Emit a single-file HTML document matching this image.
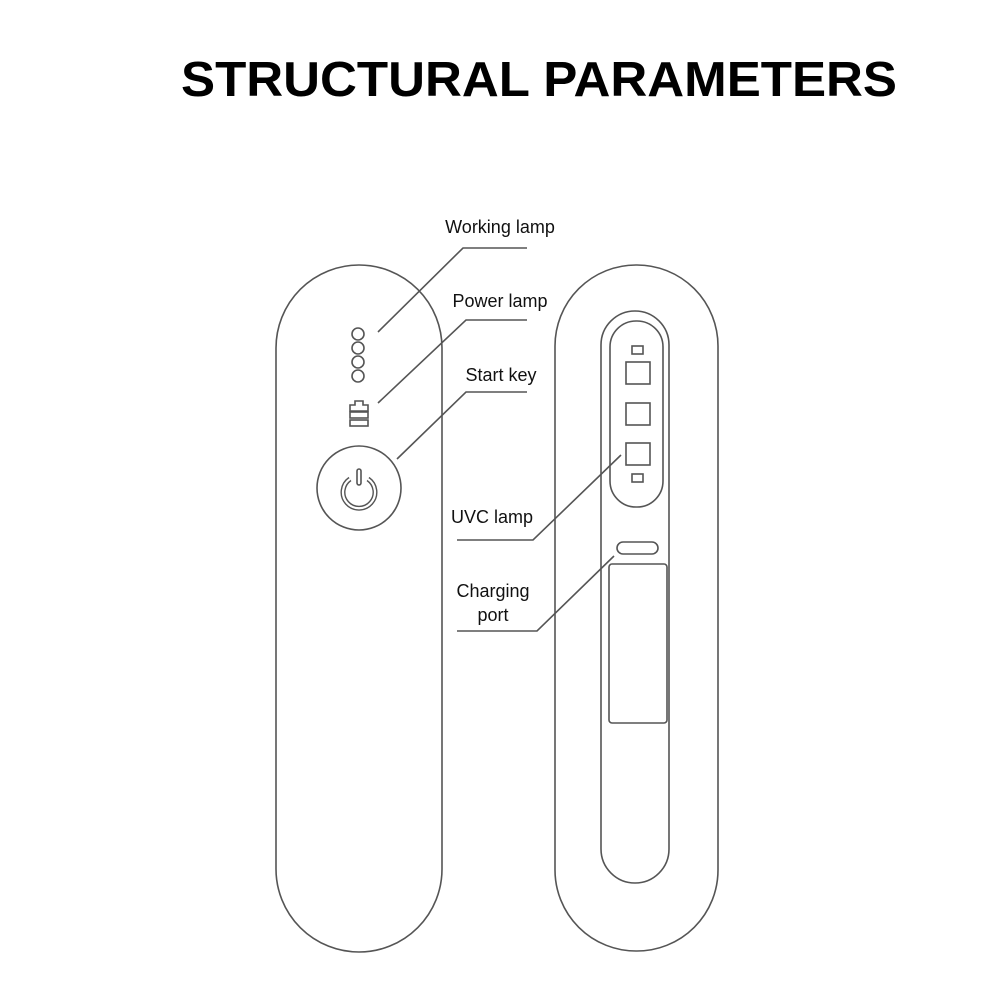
<!DOCTYPE html>
<html><head><style>
html,body{margin:0;padding:0;background:#fff}
svg{display:block}
text{font-family:"Liberation Sans",Arial,sans-serif;fill:#111}
</style></head><body>
<svg width="1000" height="1000" viewBox="0 0 1000 1000" xmlns="http://www.w3.org/2000/svg">
<text x="539" y="96" font-size="49" font-weight="bold" text-anchor="middle" textLength="716" lengthAdjust="spacingAndGlyphs" style="fill:#000">STRUCTURAL PARAMETERS</text>
<g fill="none" stroke="#555" stroke-width="1.6">
<rect x="276" y="265" width="166" height="687" rx="83"/>
<circle cx="358" cy="334" r="6"/>
<circle cx="358" cy="348" r="6"/>
<circle cx="358" cy="362" r="6"/>
<circle cx="358" cy="376" r="6"/>
<path d="M350 405 h5 v-4 h8 v4 h5 v6 h-18 z"/>
<rect x="350" y="412" width="18" height="6"/>
<rect x="350" y="420" width="18" height="6"/>
<circle cx="359" cy="488" r="42"/>
<path d="M350 479 A16 16 0 1 0 368 479" stroke-width="5" stroke="#555"/>
<path d="M350 479 A16 16 0 1 0 368 479" stroke-width="2.2" stroke="#fff"/>
<rect x="357" y="469" width="4" height="16" rx="2"/>
<rect x="555" y="265" width="163" height="686" rx="81"/>
<rect x="601" y="311" width="68" height="572" rx="34"/>
<rect x="610" y="321" width="53" height="186" rx="26"/>
<rect x="632" y="346" width="11" height="8"/>
<rect x="626" y="362" width="24" height="22"/>
<rect x="626" y="403" width="24" height="22"/>
<rect x="626" y="443" width="24" height="22"/>
<rect x="632" y="474" width="11" height="8"/>
<rect x="617" y="542" width="41" height="12" rx="6"/>
<rect x="609" y="564" width="58" height="159" rx="3"/>
<path d="M378 332 L463 248 H527"/>
<path d="M378 403 L466 320 H527"/>
<path d="M397 459 L466 392 H527"/>
<path d="M621 455 L533 540 H457"/>
<path d="M614 556 L537 631 H457"/>
</g>
<g font-size="18">
<text x="500" y="233" text-anchor="middle">Working lamp</text>
<text x="500" y="307" text-anchor="middle">Power lamp</text>
<text x="501" y="381" text-anchor="middle">Start key</text>
<text x="492" y="523" text-anchor="middle">UVC lamp</text>
<text x="493" y="597" text-anchor="middle">Charging</text>
<text x="493" y="621" text-anchor="middle">port</text>
</g>
</svg>
</body></html>
